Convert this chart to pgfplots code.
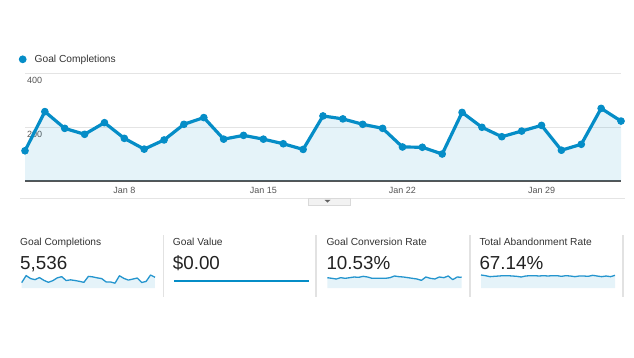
\documentclass[border=0pt]{standalone}
\usepackage{fontspec}
\setmainfont{Liberation Sans}
\usepackage{pgfplots}
\pgfplotsset{compat=1.18}
\usepackage{pgfplotstable}
\definecolor{ga}{HTML}{058DC7}
\definecolor{sparkc}{HTML}{2495CE}
\definecolor{axisgrey}{HTML}{555555}
\definecolor{gridgrey}{HTML}{E4E4E4}
\definecolor{ticktext}{HTML}{555555}
\definecolor{titletext}{HTML}{333333}
\definecolor{valtext}{HTML}{222222}
\definecolor{sepgrey}{HTML}{E2E2E2}

\pgfplotstableread{
i gc cr ar
0 112 10.88 72.7
1 257 10.18 69.0
2 195 9.48 63.4
3 173 10.88 65.3
4 216 10.18 67.1
5 158 10.88 69.0
6 118 11.58 69.0
7 152 11.23 67.1
8 210 12.29 65.3
9 235 11.58 61.5
10 155 10.18 67.1
11 169 10.18 69.0
12 155 10.18 69.0
13 138 10.18 67.1
14 117 10.88 69.0
15 241 12.64 67.1
16 230 11.93 69.0
17 210 11.58 69.0
18 195 10.88 65.3
19 126 10.18 69.0
20 125 9.48 67.1
21 100 8.07 63.4
22 254 11.58 67.1
23 199 10.18 67.1
24 164 9.48 65.3
25 185 11.58 70.9
26 206 10.88 67.1
27 114 12.64 63.4
28 136 8.78 67.1
29 269 11.58 63.4
30 222 11.23 70.9
}\data

\pgfplotstableread{
i gv
0 0
30 0
}\gvdata

\pgfplotsset{sparkax/.style={scale only axis, hide axis, xmin=0, xmax=30, ymin=0,
  clip=false, anchor=south west, height=13pt}}

\begin{document}
\begin{tikzpicture}[x=1pt,y=1pt]
\useasboundingbox (0,0) rectangle (634,-357);
\fill[white] (0,0) rectangle (634,-357);

% legend
\fill[ga] (22.7,-59.3) circle (3.9);
\node[anchor=base west, inner sep=0pt, font=\fontsize{10.2}{12}\selectfont, text=titletext] at (34.5,-62.6) {Goal Completions};

\begin{axis}[
  at={(25pt,-181pt)}, anchor=south west, scale only axis,
  width=596pt, height=108pt,
  xmin=0, xmax=30, ymin=0, ymax=400, clip=false,
  axis x line*=bottom, axis y line*=left,
  x axis line style={draw=axisgrey, line width=1.2pt, -},
  y axis line style={draw=none},
  xtick={5,12,19,26}, xticklabels={Jan 8,Jan 15,Jan 22,Jan 29},
  ytick={200,400}, ymajorgrids, grid style={draw=gridgrey, line width=0.8pt},
  major tick length=0pt,
  tick label style={font=\fontsize{9}{10}\selectfont, text=ticktext},
  yticklabel style={anchor=north west, inner sep=0pt, xshift=2pt, yshift=-4pt},
  xticklabel style={yshift=-3pt},
  /pgf/number format/assume math mode=true,
]
\addplot[draw=none, fill=ga, fill opacity=0.1] table[x=i, y=gc] {\data} \closedcycle;
\addplot[ga, line width=3.2pt, line join=round, mark=*, mark size=3.3pt,
  mark options={fill=ga, draw=ga, line width=1pt, solid}] table[x=i, y=gc] {\data};
\end{axis}

% divider under chart
\draw[gridgrey, line width=1pt] (20,-198.3) -- (625,-198.3);
\filldraw[fill=gray!10, draw=gray!30, line width=0.6pt] (308,-197.8) rectangle (350,-205);
\fill[gray!75!black] (324.5,-199.8) -- (330.5,-199.8) -- (327.5,-202.6) -- cycle;

% scorecard separators
\foreach \xx in {163.3,316,470,623} {
  \draw[sepgrey, line width=1.5pt] (\xx,-235) -- (\xx,-297);
}

% titles and values
\foreach \xx/\tt/\vv in {20/Goal Completions/{5,536}, 172.7/Goal Value/{\$0.00}, 326.3/Goal Conversion Rate/{10.53\%}, 479.3/Total Abandonment Rate/{67.14\%}} {
  \node[anchor=base west, inner sep=0pt, font=\fontsize{10.2}{12}\selectfont, text=titletext] at (\xx,-245.3) {\tt};
  \node[anchor=base west, inner sep=0pt, font=\fontsize{18.8}{22}\selectfont, text=valtext] at (\xx,-269.5) {\vv};
}

% sparklines
\begin{axis}[sparkax, at={(21.7pt,-288pt)}, width=133.3pt, ymax=269]
\addplot[draw=none, fill=ga, fill opacity=0.1] table[x=i, y=gc] {\data} \closedcycle;
\addplot[sparkc, line width=1.3pt, line join=round] table[x=i, y=gc] {\data};
\end{axis}

\begin{axis}[sparkax, at={(174pt,-288pt)}, width=135pt, ymin=-36, ymax=28]
\addplot[ga, line width=1.7pt, mark=none] table[x=i, y=gv] {\gvdata};
\end{axis}

\begin{axis}[sparkax, at={(327.3pt,-288pt)}, width=134.4pt, ymax=13.68]
\addplot[draw=none, fill=ga, fill opacity=0.1] table[x=i, y=cr] {\data} \closedcycle;
\addplot[sparkc, line width=1.3pt, line join=round] table[x=i, y=cr] {\data};
\end{axis}

\begin{axis}[sparkax, at={(481pt,-288pt)}, width=134pt, ymax=72.7]
\addplot[draw=none, fill=ga, fill opacity=0.1] table[x=i, y=ar] {\data} \closedcycle;
\addplot[sparkc, line width=1.3pt, line join=round] table[x=i, y=ar] {\data};
\end{axis}

\end{tikzpicture}
\end{document}
